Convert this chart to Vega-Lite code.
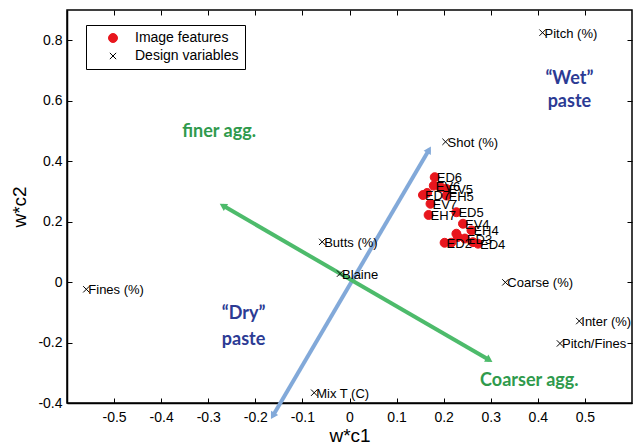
{
  "$schema": "https://vega.github.io/schema/vega-lite/v6.json",
  "width": 565,
  "height": 393,
  "autosize": {"type": "none"},
  "padding": {"left": 67, "top": 10, "right": 2, "bottom": 41},
  "background": "white",
  "config": {
    "view": {"stroke": "black", "strokeWidth": 1.5},
    "font": "Liberation Sans",
    "axis": {
      "grid": false,
      "domainColor": "black",
      "domainWidth": 1.5,
      "tickColor": "black",
      "tickSize": -5,
      "tickWidth": 1,
      "labelFontSize": 14,
      "labelColor": "black",
      "labelFont": "Liberation Sans",
      "titleFont": "Liberation Sans",
      "titleFontSize": 19,
      "titleFontWeight": "normal",
      "titleColor": "black"
    }
  },
  "datasets": {
    "pts": [
      {"name": "Pitch (%)", "x": 0.41, "y": 0.825, "type": "Design variables"},
      {"name": "Shot (%)", "x": 0.204, "y": 0.464, "type": "Design variables"},
      {"name": "Butts (%)", "x": -0.058, "y": 0.133, "type": "Design variables"},
      {"name": "Blaine", "x": -0.02, "y": 0.028, "type": "Design variables"},
      {"name": "Fines (%)", "x": -0.559, "y": -0.024, "type": "Design variables"},
      {"name": "Coarse (%)", "x": 0.331, "y": -0.001, "type": "Design variables"},
      {"name": "Inter (%)", "x": 0.488, "y": -0.129, "type": "Design variables"},
      {"name": "Pitch/Fines", "x": 0.447, "y": -0.203, "type": "Design variables"},
      {"name": "Mix T (C)", "x": -0.075, "y": -0.366, "type": "Design variables"},
      {"name": "ED6", "x": 0.181, "y": 0.347, "type": "Image features"},
      {"name": "EV6", "x": 0.179, "y": 0.319, "type": "Image features"},
      {"name": "", "x": 0.194, "y": 0.313, "type": "Image features"},
      {"name": "EV5", "x": 0.206, "y": 0.308, "type": "Image features"},
      {"name": "ED7", "x": 0.156, "y": 0.288, "type": "Image features"},
      {"name": "", "x": 0.165, "y": 0.295, "type": "Image features"},
      {"name": "EH5", "x": 0.206, "y": 0.286, "type": "Image features"},
      {"name": "EV7", "x": 0.172, "y": 0.259, "type": "Image features"},
      {"name": "EH7", "x": 0.168, "y": 0.222, "type": "Image features"},
      {"name": "ED5", "x": 0.227, "y": 0.231, "type": "Image features"},
      {"name": "EV4", "x": 0.241, "y": 0.193, "type": "Image features"},
      {"name": "EH4", "x": 0.259, "y": 0.171, "type": "Image features"},
      {"name": "", "x": 0.227, "y": 0.16, "type": "Image features"},
      {"name": "", "x": 0.23, "y": 0.149, "type": "Image features"},
      {"name": "ED2", "x": 0.202, "y": 0.13, "type": "Image features"},
      {"name": "", "x": 0.216, "y": 0.13, "type": "Image features"},
      {"name": "ED3", "x": 0.245, "y": 0.144, "type": "Image features"},
      {"name": "", "x": 0.262, "y": 0.132, "type": "Image features"},
      {"name": "ED4", "x": 0.273, "y": 0.127, "type": "Image features"}
    ],
    "arrows": [
      {"arrow": "blue", "end": "a", "x": -0.163, "y": -0.443},
      {"arrow": "blue", "end": "b", "x": 0.169, "y": 0.438},
      {"arrow": "green", "end": "a", "x": -0.269, "y": 0.253},
      {"arrow": "green", "end": "b", "x": 0.297, "y": -0.258}
    ],
    "notes": [
      {"text": "finer agg.", "x": -0.277, "y": 0.497, "grp": "green"},
      {"text": "Coarser agg.", "x": 0.382, "y": -0.328, "grp": "green"},
      {"text": "“Wet”", "x": 0.467, "y": 0.672, "grp": "blue"},
      {"text": "paste", "x": 0.467, "y": 0.596, "grp": "blue"},
      {"text": "“Dry”", "x": -0.225, "y": -0.107, "grp": "blue"},
      {"text": "paste", "x": -0.225, "y": -0.192, "grp": "blue"}
    ]
  },
  "layer": [
    {
      "mark": {"type": "rule", "color": "#808080", "strokeWidth": 1},
      "encoding": {
        "x": {"datum": 0, "type": "quantitative", "scale": {"domain": [-0.6, 0.6], "nice": false, "zero": false},
          "axis": {"orient": "top", "labels": false, "title": null, "domain": false, "values": [-0.5, -0.4, -0.3, -0.2, -0.1, 0, 0.1, 0.2, 0.3, 0.4, 0.5]}}
      }
    },
    {
      "mark": {"type": "rule", "color": "#808080", "strokeWidth": 1},
      "encoding": {
        "y": {"datum": 0, "type": "quantitative", "scale": {"domain": [-0.4, 0.9], "nice": false, "zero": false},
          "axis": {"orient": "right", "labels": false, "title": null, "domain": false, "values": [-0.4, -0.2, 0, 0.2, 0.4, 0.6, 0.8]}}
      }
    },
    {
      "data": {"name": "arrows"},
      "transform": [{"filter": "datum.arrow == 'blue'"}],
      "mark": {"type": "line", "strokeWidth": 4, "color": "#82a9d9"},
      "encoding": {
        "x": {"field": "x", "type": "quantitative", "scale": {"domain": [-0.6, 0.6], "nice": false, "zero": false}, "axis": null},
        "y": {"field": "y", "type": "quantitative", "scale": {"domain": [-0.4, 0.9], "nice": false, "zero": false}, "axis": null}
      }
    },
    {
      "data": {"name": "arrows"},
      "transform": [{"filter": "datum.arrow == 'green'"}],
      "mark": {"type": "line", "strokeWidth": 4, "color": "#4dbb6b"},
      "encoding": {
        "x": {"field": "x", "type": "quantitative", "axis": null},
        "y": {"field": "y", "type": "quantitative", "axis": null}
      }
    },
    {
      "data": {"name": "arrows"},
      "transform": [{"filter": "datum.arrow == 'blue' && datum.end == 'b'"}],
      "mark": {"type": "point", "shape": "triangle-up", "filled": true, "size": 70, "angle": 30.5, "color": "#82a9d9", "opacity": 1},
      "encoding": {
        "x": {"field": "x", "type": "quantitative", "axis": null},
        "y": {"field": "y", "type": "quantitative", "axis": null}
      }
    },
    {
      "data": {"name": "arrows"},
      "transform": [{"filter": "datum.arrow == 'blue' && datum.end == 'a'"}],
      "mark": {"type": "point", "shape": "triangle-up", "filled": true, "size": 70, "angle": 210.5, "color": "#82a9d9", "opacity": 1},
      "encoding": {
        "x": {"field": "x", "type": "quantitative", "axis": null},
        "y": {"field": "y", "type": "quantitative", "axis": null}
      }
    },
    {
      "data": {"name": "arrows"},
      "transform": [{"filter": "datum.arrow == 'green' && datum.end == 'a'"}],
      "mark": {"type": "point", "shape": "triangle-up", "filled": true, "size": 70, "angle": 301.2, "color": "#4dbb6b", "opacity": 1},
      "encoding": {
        "x": {"field": "x", "type": "quantitative", "axis": null},
        "y": {"field": "y", "type": "quantitative", "axis": null}
      }
    },
    {
      "data": {"name": "arrows"},
      "transform": [{"filter": "datum.arrow == 'green' && datum.end == 'b'"}],
      "mark": {"type": "point", "shape": "triangle-up", "filled": true, "size": 70, "angle": 121.2, "color": "#4dbb6b", "opacity": 1},
      "encoding": {
        "x": {"field": "x", "type": "quantitative", "axis": null},
        "y": {"field": "y", "type": "quantitative", "axis": null}
      }
    },
    {
      "data": {"name": "pts"},
      "mark": {"type": "point", "strokeWidth": 1, "opacity": 1},
      "encoding": {
        "x": {"field": "x", "type": "quantitative", "scale": {"domain": [-0.6, 0.6], "nice": false, "zero": false},
          "axis": {"orient": "bottom", "title": "w*c1", "values": [-0.5, -0.4, -0.3, -0.2, -0.1, 0, 0.1, 0.2, 0.3, 0.4, 0.5],
            "labelPadding": 12, "titlePadding": 2,
            "labelExpr": "datum.value === 0 ? '0' : (datum.value < 0 ? '-' + format(-datum.value, '.1f') : format(datum.value, '.1f'))"}},
        "y": {"field": "y", "type": "quantitative", "scale": {"domain": [-0.4, 0.9], "nice": false, "zero": false},
          "axis": {"orient": "left", "title": "w*c2", "values": [-0.4, -0.2, 0, 0.2, 0.4, 0.6, 0.8],
            "labelPadding": 10, "titlePadding": 8,
            "labelExpr": "datum.value === 0 ? '0' : (datum.value < 0 ? '-' + format(-datum.value, '.1f') : format(datum.value, '.1f'))"}},
        "shape": {"field": "type", "type": "nominal", "scale": {"domain": ["Image features", "Design variables"], "range": ["circle", "M-1,-1L1,1M-1,1L1,-1"]}, "legend": {"title": null}},
        "fill": {"field": "type", "type": "nominal", "scale": {"domain": ["Image features", "Design variables"], "range": ["#e8161d", "transparent"]}, "legend": {"title": null}},
        "stroke": {"field": "type", "type": "nominal", "scale": {"domain": ["Image features", "Design variables"], "range": ["#e8161d", "black"]}, "legend": {"title": null}},
        "size": {"field": "type", "type": "nominal", "scale": {"domain": ["Image features", "Design variables"], "range": [80, 40]},
          "legend": {"title": null, "orient": "none", "legendX": 19, "legendY": 15, "strokeColor": "black", "fillColor": "white",
            "padding": 6, "symbolOffset": 14, "labelOffset": 15, "labelFontSize": 14, "labelFont": "Liberation Sans", "labelColor": "black", "rowPadding": 4, "symbolStrokeWidth": 1}}
      }
    },
    {
      "data": {"name": "pts"},
      "mark": {"type": "text", "align": "left", "baseline": "middle", "dx": 2, "dy": 1, "fontSize": 13, "font": "Liberation Sans", "color": "black"},
      "encoding": {
        "x": {"field": "x", "type": "quantitative", "axis": null},
        "y": {"field": "y", "type": "quantitative", "axis": null},
        "text": {"field": "name", "type": "nominal"}
      }
    },
    {
      "data": {"name": "notes"},
      "mark": {"type": "text", "align": "center", "baseline": "middle", "fontSize": 18, "font": "Lato", "fontWeight": "bold"},
      "encoding": {
        "x": {"field": "x", "type": "quantitative", "axis": null},
        "y": {"field": "y", "type": "quantitative", "axis": null},
        "text": {"field": "text", "type": "nominal"},
        "color": {"field": "grp", "type": "nominal", "scale": {"domain": ["blue", "green"], "range": ["#2c3b94", "#2f9a4c"]}, "legend": null}
      }
    }
  ],
  "resolve": {"axis": {"x": "independent", "y": "independent"}}
}
